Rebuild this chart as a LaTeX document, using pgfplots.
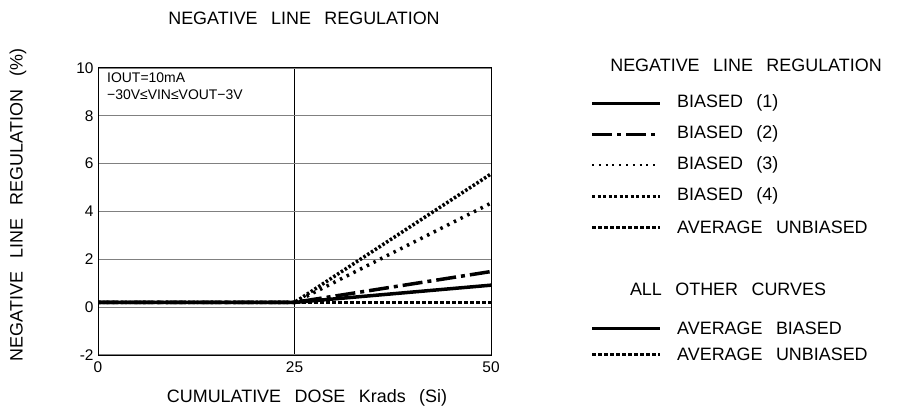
\documentclass[border=0pt]{standalone}
\usepackage{fontspec}
\setmainfont[WordSpace=2.7]{Liberation Sans}
\usepackage{pgfplots}
\pgfplotsset{compat=1.18}
\newcommand{\bigfont}{\fontsize{18}{21}\selectfont}
\newcommand{\tickfont}{\fontsize{15.5}{17}\selectfont}
\newcommand{\annfont}{\fontsize{14}{16}\selectfont}
\tikzset{
  b1/.style={black, line width=3.5bp},
  b2/.style={black, line width=3.5bp, dash pattern=on 20bp off 5bp on 4bp off 5bp},
  b3/.style={black, line width=3.5bp, dash pattern=on 2.5bp off 5bp},
  b4/.style={black, line width=3.5bp, dash pattern=on 2.5bp off 2bp},
  au/.style={black, line width=3.5bp, dash pattern=on 4bp off 2bp},
}
\begin{document}
\begin{tikzpicture}[x=1bp,y=1bp]
\useasboundingbox (0,0) rectangle (898,415);
\begin{axis}[
  at={(98bp,60bp)}, anchor=south west,
  scale only axis, width=393bp, height=287bp,
  xmin=0, xmax=50, ymin=-2, ymax=10,
  xtick={0,25,50}, ytick={-2,0,2,4,6,8,10},
  major tick length=0pt,
  xmajorgrids, ymajorgrids,
  x grid style={black, line width=0.8bp},
  y grid style={gray, line width=1.2bp},
  axis line style={black, line width=1bp},
  /pgf/number format/assume math mode=true,
  yticklabel style={font=\tickfont, xshift=-1bp},
  xticklabel style={font=\tickfont, yshift=-3bp},
]
\addplot[au] coordinates {(0,0.2) (25,0.2) (50,0.2)};
\addplot[b4] coordinates {(0,0.2) (25,0.2) (50,5.57)};
\addplot[b3] coordinates {(0,0.2) (25,0.2) (50,4.35)};
\addplot[b2] coordinates {(0,0.2) (25,0.2) (50,1.49)};
\addplot[b1] coordinates {(0,0.2) (25,0.2) (50,0.92)};
\end{axis}
% annotation
\node[anchor=west, font=\annfont, inner sep=0] at (107,337) {IOUT=10mA};
\node[anchor=west, font=\annfont, inner sep=0] at (107,320) {−30V≤VIN≤VOUT−3V};
% titles
\node[font=\bigfont] at (304,397) {NEGATIVE LINE REGULATION};
\node[font=\bigfont] at (307,17) {CUMULATIVE DOSE Krads (Si)};
\node[font=\bigfont, rotate=90] at (18,210) {NEGATIVE LINE REGULATION (\%)};
% legend
\node[font=\bigfont] at (746,350) {NEGATIVE LINE REGULATION};
\draw[b1, line width=3bp] (592,312) -- (660,312);
\node[font=\bigfont, anchor=west, inner sep=0] at (677,312) {BIASED (1)};
\draw[b2, line width=3bp] (592,281) -- (660,281);
\node[font=\bigfont, anchor=west, inner sep=0] at (677,281) {BIASED (2)};
\draw[b3, line width=2bp, dash pattern=on 2bp off 4.8bp] (592,250) -- (660,250);
\node[font=\bigfont, anchor=west, inner sep=0] at (677,250) {BIASED (3)};
\draw[b4, line width=3bp, dash pattern=on 3bp off 2.5bp] (592,219) -- (660,219);
\node[font=\bigfont, anchor=west, inner sep=0] at (677,219) {BIASED (4)};
\draw[au, line width=3bp, dash pattern=on 4bp off 2bp] (592,188) -- (660,188);
\node[font=\bigfont, anchor=west, inner sep=0] at (677,188) {AVERAGE UNBIASED};
\node[font=\bigfont] at (728,126) {ALL OTHER CURVES};
\draw[b1, line width=3bp] (592,87) -- (660,87);
\node[font=\bigfont, anchor=west, inner sep=0] at (677,87) {AVERAGE BIASED};
\draw[au, line width=3bp, dash pattern=on 4bp off 2bp] (592,61) -- (660,61);
\node[font=\bigfont, anchor=west, inner sep=0] at (677,61) {AVERAGE UNBIASED};
\end{tikzpicture}
\end{document}
